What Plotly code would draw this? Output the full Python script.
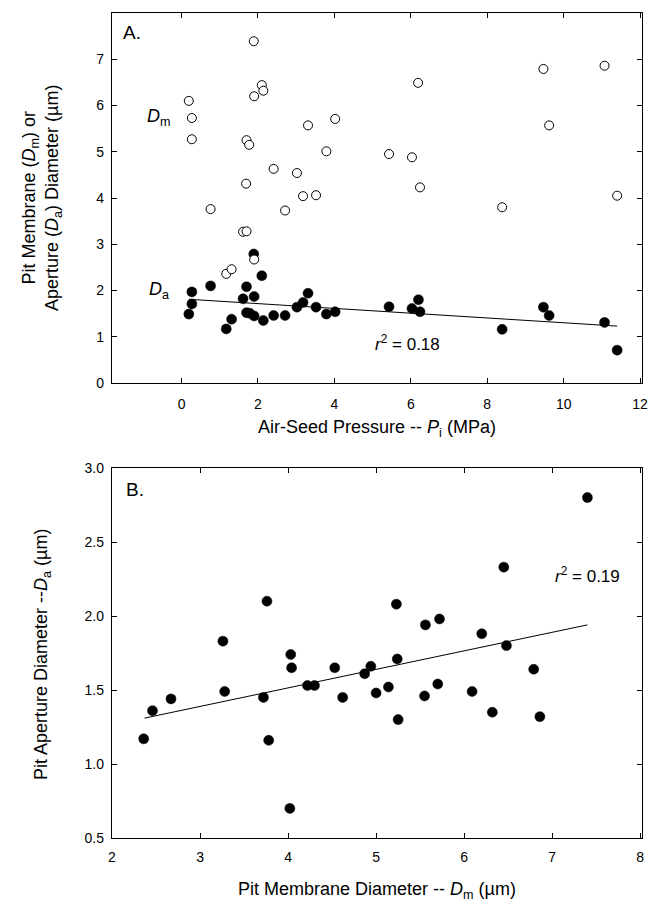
import plotly.graph_objects as go
from plotly.subplots import make_subplots

# ---------------- Panel A data ----------------
pressure_open = [0.19, 0.27, 0.27, 0.76, 1.17, 1.31, 1.61, 1.70, 1.70, 1.69, 1.77, 1.89, 1.90, 1.90,
                 2.10, 2.14, 2.41, 2.71, 3.02, 3.18, 3.31, 3.52, 3.79, 4.02,
                 5.43, 6.03, 6.19, 6.24, 8.39, 9.47, 9.62, 11.07, 11.40]
dm_open = [6.10, 5.73, 5.27, 3.76, 2.36, 2.46, 3.27, 3.28, 5.25, 4.31, 5.15, 7.39, 6.20, 2.67,
           6.44, 6.32, 4.63, 3.73, 4.54, 4.04, 5.57, 4.06, 5.01, 5.71,
           4.95, 4.88, 6.49, 4.23, 3.80, 6.79, 5.57, 6.86, 4.05]

pressure_filled = [0.19, 0.27, 0.27, 0.76, 1.17, 1.31, 1.61, 1.70, 1.70, 1.78, 1.90, 1.90, 1.89,
                   2.10, 2.14, 2.41, 2.71, 3.02, 3.18, 3.31, 3.52, 3.79, 4.02,
                   5.43, 6.03, 6.20, 6.24, 8.39, 9.47, 9.62, 11.07, 11.40]
da_filled = [1.49, 1.97, 1.71, 2.10, 1.17, 1.38, 1.82, 2.08, 1.52, 1.51, 1.45, 1.87, 2.79,
             2.32, 1.35, 1.46, 1.46, 1.64, 1.74, 1.94, 1.64, 1.49, 1.54,
             1.65, 1.61, 1.80, 1.54, 1.16, 1.64, 1.46, 1.31, 0.71]

fit_a_x = [0.19, 11.40]
fit_a_y = [1.81, 1.23]

# ---------------- Panel B data ----------------
dm_b = [2.36, 2.46, 2.67, 3.26, 3.28, 3.72, 3.76, 3.78, 4.02, 4.03, 4.04, 4.22, 4.30, 4.53, 4.62,
        4.87, 4.94, 5.00, 5.14, 5.24, 5.23, 5.25, 5.56, 5.72, 5.70, 5.55, 6.09, 6.20, 6.45, 6.48,
        6.32, 6.79, 6.86, 7.40]
da_b = [1.17, 1.36, 1.44, 1.83, 1.49, 1.45, 2.10, 1.16, 0.70, 1.74, 1.65, 1.53, 1.53, 1.65, 1.45,
        1.61, 1.66, 1.48, 1.52, 1.71, 2.08, 1.30, 1.94, 1.98, 1.54, 1.46, 1.49, 1.88, 2.33, 1.80,
        1.35, 1.64, 1.32, 2.80]

fit_b_x = [2.37, 7.40]
fit_b_y = [1.31, 1.94]

xticks_a = [0, 2, 4, 6, 8, 10, 12]
yticks_a = [0, 1, 2, 3, 4, 5, 6, 7, 8]
xticks_b = [2, 3, 4, 5, 6, 7, 8]
yticks_b = [0.5, 1.0, 1.5, 2.0, 2.5, 3.0]
yticklabels_b = ["0.5", "1.0", "1.5", "2.0", "2.5", "3.0"]

FONT = "Liberation Sans, Arial, Helvetica, sans-serif"
OFF = 8                      # default page body margin
W, H = 667 - 2 * OFF, 911 - 2 * OFF
# targets in screen pixels
SL, SR, ST, SB = 112, 642, 13, 838
L, T = SL - OFF, ST - OFF
R = W - (SR - OFF)
B = H - (SB - OFF)
PW, PH = W - L - R, H - T - B


def px(xs):
    return (xs - SL) / PW


def py(ys):
    return (SB - ys) / PH


fig = make_subplots(rows=2, cols=1)

# Panel A
fig.add_trace(go.Scatter(x=fit_a_x, y=fit_a_y, mode="lines",
                         line=dict(color="black", width=1)), row=1, col=1)
fig.add_trace(go.Scatter(x=pressure_filled, y=da_filled, mode="markers",
                         marker=dict(symbol="circle", size=10, color="black",
                                     line=dict(color="black", width=0.5))), row=1, col=1)
fig.add_trace(go.Scatter(x=pressure_open, y=dm_open, mode="markers",
                         marker=dict(symbol="circle", size=9, color="white",
                                     line=dict(color="black", width=1))), row=1, col=1)

# Panel B
fig.add_trace(go.Scatter(x=fit_b_x, y=fit_b_y, mode="lines",
                         line=dict(color="black", width=1)), row=2, col=1)
fig.add_trace(go.Scatter(x=dm_b, y=da_b, mode="markers",
                         marker=dict(symbol="circle", size=10, color="black",
                                     line=dict(color="black", width=0.5))), row=2, col=1)

axis_common = dict(showline=True, linecolor="black", linewidth=1.3, mirror="ticks",
                   ticks="inside", ticklen=5, tickwidth=1, tickcolor="black",
                   showgrid=False, zeroline=False,
                   tickfont=dict(family=FONT, size=14, color="black"))

fig.update_layout(
    xaxis=dict(range=[-1.82, 12.05], tickvals=xticks_a, ticklabelstandoff=8,
               domain=[0, 1], **axis_common),
    yaxis=dict(range=[0, 8], tickvals=yticks_a, ticklabelstandoff=4,
               domain=[py(383), 1.0], **axis_common),
    xaxis2=dict(range=[2, 8.02], tickvals=xticks_b, ticklabelstandoff=6,
                domain=[0, 1], **axis_common),
    yaxis2=dict(range=[0.5, 3.0], tickvals=yticks_b, ticktext=yticklabels_b,
                ticklabelstandoff=4, domain=[0, py(468)], **axis_common),
)

tf = dict(family=FONT, color="black")


def note(text, x, y, size, xref="paper", yref="paper", angle=0, xanchor="center"):
    return dict(text=text, x=x, y=y, xref=xref, yref=yref, textangle=angle,
                xanchor=xanchor, yanchor="middle", showarrow=False,
                font=dict(size=size, **tf))


ann = [
    note("A.", px(121), py(32), 19, xanchor="left"),
    note("B.", px(124), py(490), 19, xanchor="left"),
    note("<i>D</i><sub>m</sub>", -0.6, 5.75, 18, "x", "y"),
    note("<i>D</i><sub>a</sub>", -0.6, 2.0, 18, "x", "y"),
    note("<i>r</i><sup>2</sup> = 0.18", 5.92, 0.86, 17, "x", "y"),
    note("<i>r</i><sup>2</sup> = 0.19", 7.40, 2.28, 17, "x2", "y2"),
    note("Air-Seed Pressure -- <i>P</i><sub>i</sub> (MPa)", px(377), py(428), 18),
    note("Pit Membrane (<i>D</i><sub>m</sub>) or<br>Aperture (<i>D</i><sub>a</sub>) Diameter (µm)",
         px(42), py(198), 18, angle=-90),
    note("Pit Membrane Diameter -- <i>D</i><sub>m</sub> (µm)", px(377), py(890), 18),
    note("Pit Aperture Diameter --<i>D</i><sub>a</sub> (µm)", px(42), py(655), 18, angle=-90),
]

fig.update_layout(
    width=W, height=H,
    margin=dict(l=L, r=R, t=T, b=B, autoexpand=False),
    paper_bgcolor="white", plot_bgcolor="white",
    showlegend=False,
    annotations=ann,
    font=dict(family=FONT, color="black"),
)

fig.write_html("out.html")
